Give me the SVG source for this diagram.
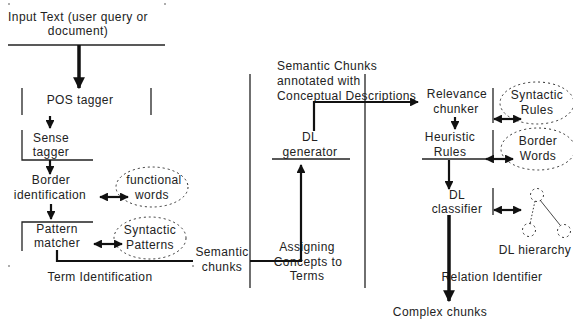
<svg xmlns="http://www.w3.org/2000/svg" width="573" height="321" viewBox="0 0 573 321">
<style>
text{font-family:"Liberation Sans",Arial,sans-serif;font-size:12px;letter-spacing:0.4px;fill:#222;text-anchor:middle}
.l{text-anchor:start}
.thin{stroke:#222;stroke-width:1.3;fill:none}
.med{stroke:#111;stroke-width:2.2;fill:none}
.thick{stroke:#111;stroke-width:3.5;fill:none}
.ell{stroke:#333;stroke-width:1;stroke-dasharray:2 3;fill:none}
</style>
<defs>
<marker id="ah" viewBox="0 0 10 10" refX="9" refY="5" markerWidth="4" markerHeight="4" orient="auto-start-reverse" markerUnits="strokeWidth"><path d="M0,0L10,5L0,10z" fill="#111"/></marker>
<marker id="ahb" viewBox="0 0 10 10" refX="9" refY="5" markerWidth="3.4" markerHeight="3.4" orient="auto-start-reverse" markerUnits="strokeWidth"><path d="M0,0L10,5L0,10z" fill="#111"/></marker>
</defs>
<rect width="573" height="321" fill="#fff"/>
<g id="corners" fill="#444">
<circle cx="9" cy="4" r="0.8"/><circle cx="165" cy="4" r="0.8"/><circle cx="9" cy="266" r="0.8"/><circle cx="193" cy="266" r="0.8"/>
</g>
<g id="input"><text x="78" y="21">Input Text (user query or</text><text x="78" y="35">document)</text></g>
<g id="pos"><text x="80" y="104">POS tagger</text></g>
<g id="sense"><text x="51" y="142">Sense</text><text x="51" y="156">tagger</text></g>
<g id="border"><text x="51" y="184">Border</text><text x="50" y="199">identification</text></g>
<g id="functional"><ellipse class="ell" cx="152" cy="187" rx="36" ry="20"/><text x="154" y="184">functional</text><text x="152" y="199">words</text></g>
<g id="pattern"><text x="57" y="233">Pattern</text><text x="57" y="247">matcher</text></g>
<g id="synpat"><ellipse class="ell" cx="150" cy="238" rx="36" ry="21"/><text x="150" y="234">Syntactic</text><text x="150" y="249">Patterns</text></g>
<g id="termid"><text x="100" y="281">Term Identification</text></g>
<g id="semchunks"><text x="222" y="256">Semantic</text><text x="222" y="271">chunks</text></g>
<g id="assign"><text x="307" y="251">Assigning</text><text x="308" y="266">Concepts to</text><text x="307" y="280">Terms</text></g>
<g id="dlgen"><text x="310" y="141">DL</text><text x="310" y="156">generator</text></g>
<g id="annot"><text class="l" x="277" y="70">Semantic Chunks</text><text class="l" x="277" y="85">annotated with</text><text class="l" x="277" y="100">Conceptual Descriptions</text></g>
<g id="relev"><text x="457" y="98">Relevance</text><text x="456" y="113">chunker</text></g>
<g id="synrules"><ellipse class="ell" cx="537" cy="103" rx="37" ry="21"/><text x="537" y="99">Syntactic</text><text x="537" y="114">Rules</text></g>
<g id="heur"><text x="450" y="141">Heuristic</text><text x="450" y="156">Rules</text></g>
<g id="borderwords"><ellipse class="ell" cx="538" cy="149" rx="37" ry="21"/><text x="538" y="145">Border</text><text x="538" y="160">Words</text></g>
<g id="dlclass"><text x="457" y="199">DL</text><text x="457" y="213">classifier</text></g>
<g id="dlhier">
<circle class="ell" cx="537" cy="195" r="6.5"/><circle class="ell" cx="529" cy="230" r="6.5"/><circle class="ell" cx="564" cy="231" r="6.5"/>
<line x1="535" y1="201" x2="530" y2="224" stroke="#333" stroke-width="1" stroke-dasharray="1.5 2"/>
<line x1="540" y1="200" x2="560" y2="225" stroke="#333" stroke-width="0.9"/>
<text x="535" y="254">DL hierarchy</text>
</g>
<g id="relid"><text x="492" y="281">Relation Identifier</text></g>
<g id="complex"><text x="440" y="316">Complex chunks</text></g>
<g id="connectors">
<line class="thin" x1="8" y1="45" x2="165" y2="45"/>
<line class="thick" x1="79" y1="45" x2="79" y2="88" marker-end="url(#ahb)"/>
<line class="thin" x1="22" y1="88" x2="22" y2="115"/>
<line class="thin" x1="151" y1="88" x2="151" y2="115"/>
<line class="med" x1="50" y1="116" x2="50" y2="128" marker-end="url(#ah)"/>
<polyline class="thin" points="22,130 22,160 93,160"/>
<line class="med" x1="50" y1="160" x2="50" y2="174" marker-end="url(#ah)"/>
<line class="med" x1="100" y1="197" x2="128" y2="197" marker-start="url(#ah)" marker-end="url(#ah)"/>
<line class="med" x1="51" y1="204" x2="51" y2="219" marker-end="url(#ah)"/>
<polyline class="thin" points="22,251 22,222 93,222"/>
<line class="med" x1="94" y1="244" x2="122" y2="244" marker-start="url(#ah)" marker-end="url(#ah)"/>
<polyline class="med" points="57,250 57,261 193,261"/>
<line class="thin" x1="250" y1="74" x2="250" y2="288"/>
<line class="thin" x1="365" y1="74" x2="365" y2="288"/>
<polyline class="med" points="250,261 301,261 301,165" marker-end="url(#ah)"/>
<line class="thin" x1="272" y1="159" x2="350" y2="159"/>
<polyline class="med" points="314,131 314,102 418,102" marker-end="url(#ah)"/>
<line class="med" x1="455" y1="117" x2="455" y2="129" marker-end="url(#ah)"/>
<line class="thin" x1="493" y1="88" x2="493" y2="123"/>
<line class="med" x1="494" y1="119" x2="521" y2="119" marker-start="url(#ah)" marker-end="url(#ah)"/>
<line class="thin" x1="422" y1="159" x2="490" y2="159"/>
<line class="thin" x1="493" y1="130" x2="493" y2="160"/>
<line class="med" x1="486" y1="159" x2="513" y2="159" marker-start="url(#ah)" marker-end="url(#ah)"/>
<line class="med" x1="449" y1="160" x2="449" y2="189" marker-end="url(#ah)"/>
<line class="thin" x1="493" y1="188" x2="493" y2="215"/>
<line class="med" x1="494" y1="210" x2="521" y2="210" marker-start="url(#ah)" marker-end="url(#ah)"/>
<line class="thick" x1="449" y1="215" x2="449" y2="301" marker-end="url(#ahb)"/>
</g>
</svg>
